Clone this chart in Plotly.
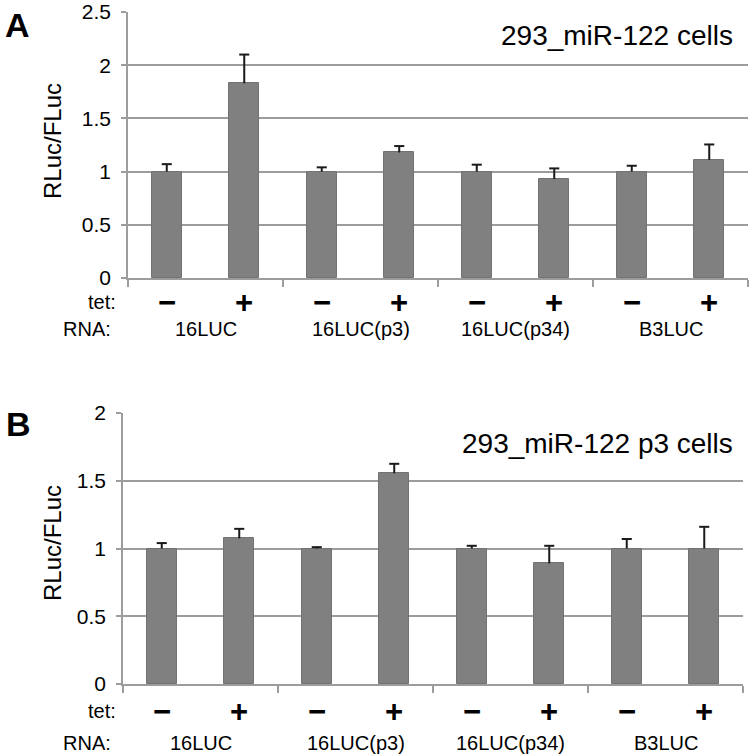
import plotly.graph_objects as go

# ---- data ----
tet_signs = ["−", "+", "−", "+", "−", "+", "−", "+"]
rna_labels = ["16LUC", "16LUC(p3)", "16LUC(p34)", "B3LUC"]
a_values = [1.0, 1.83, 1.0, 1.18, 1.0, 0.93, 1.0, 1.11]
a_errors = [0.07, 0.27, 0.04, 0.06, 0.065, 0.10, 0.055, 0.145]
b_values = [1.0, 1.075, 1.0, 1.555, 1.0, 0.89, 1.0, 1.0]
b_errors = [0.04, 0.07, 0.01, 0.07, 0.02, 0.13, 0.07, 0.16]
a_title = "293_miR-122 cells"
b_title = "293_miR-122 p3 cells"
y_label = "RLuc/FLuc"

W, H = 750, 755
FONT = "Liberation Sans, Arial, Helvetica, sans-serif"
GRID = "#9c9c9c"
BAR = "#808080"
CAP = 0.065  # half cap width in category units

def py(p):
    return 1 - p / H

xpos = list(range(len(a_values)))
group_pos = [0.5, 2.5, 4.5, 6.5]

fig = go.Figure()
for vals, errs, xa, ya in [(a_values, a_errors, "x", "y"), (b_values, b_errors, "x2", "y2")]:
    fig.add_trace(go.Bar(
        x=xpos, y=vals, xaxis=xa, yaxis=ya, width=0.39,
        marker=dict(color=BAR, line=dict(color="#727272", width=1)),
        showlegend=False, hoverinfo="skip"))
    # upward-only error bars (stem + cap), built from the data arrays
    ex, ey = [], []
    for xp, v, e in zip(xpos, vals, errs):
        ex += [xp, xp, None, xp - CAP, xp + CAP, None]
        ey += [v, v + e, None, v + e, v + e, None]
    fig.add_trace(go.Scatter(
        x=ex, y=ey, xaxis=xa, yaxis=ya, mode="lines",
        line=dict(color="#1a1a1a", width=2), showlegend=False,
        hoverinfo="skip", connectgaps=False))

xcommon = dict(range=[-0.5, 7.5], tickvals=[-0.5, 1.5, 3.5, 5.5, 7.5],
               showticklabels=False, ticks="outside", ticklen=7, tickwidth=1.5,
               tickcolor=GRID, showline=True, linecolor=GRID, linewidth=1.5,
               showgrid=False, zeroline=False, fixedrange=True, automargin=False)
ycommon = dict(dtick=0.5, showgrid=True, gridcolor=GRID, gridwidth=1.5,
               showline=True, linecolor=GRID, linewidth=1.5, ticks="outside",
               ticklen=5, tickwidth=1.5, tickcolor=GRID, zeroline=False,
               tickfont=dict(size=21, color="black", family=FONT),
               ticklabelstandoff=6, ticklabeloverflow="allow",
               fixedrange=True, automargin=False)

fig.update_layout(
    width=W, height=H, autosize=False,
    margin=dict(l=0, r=0, t=0, b=0, pad=0),
    paper_bgcolor="white", plot_bgcolor="white",
    font=dict(family=FONT, color="black"),
    bargap=0,
    xaxis=dict(domain=[128 / W, 748 / W], anchor="y", **xcommon),
    yaxis=dict(domain=[py(278), py(12)], anchor="x", range=[0, 2.5],
               tickvals=[0, 0.5, 1, 1.5, 2, 2.5],
               ticktext=["0", "0.5", "1", "1.5", "2", "2.5"], **ycommon),
    xaxis2=dict(domain=[123 / W, 743 / W], anchor="y2", **xcommon),
    yaxis2=dict(domain=[py(684), py(413)], anchor="x2", range=[0, 2],
                tickvals=[0, 0.5, 1, 1.5, 2],
                ticktext=["0", "0.5", "1", "1.5", "2"], **ycommon),
)

ann = []
# panel letters
ann.append(dict(text="<b>A</b>", x=17 / W, y=py(25), xref="paper", yref="paper",
                showarrow=False, font=dict(size=34), xanchor="center", yanchor="middle"))
ann.append(dict(text="<b>B</b>", x=18 / W, y=py(424), xref="paper", yref="paper",
                showarrow=False, font=dict(size=34), xanchor="center", yanchor="middle"))
# in-plot titles
ann.append(dict(text=a_title, x=735 / W, y=py(35), xref="paper", yref="paper",
                showarrow=False, font=dict(size=28), xanchor="right", yanchor="middle"))
ann.append(dict(text=b_title, x=735 / W, y=py(444), xref="paper", yref="paper",
                showarrow=False, font=dict(size=28), xanchor="right", yanchor="middle"))
# y axis titles
ann.append(dict(text=y_label, x=52 / W, y=py(141), xref="paper", yref="paper",
                showarrow=False, textangle=-90, font=dict(size=24),
                xanchor="center", yanchor="middle"))
ann.append(dict(text=y_label, x=52 / W, y=py(543), xref="paper", yref="paper",
                showarrow=False, textangle=-90, font=dict(size=24),
                xanchor="center", yanchor="middle"))
# row labels and category labels
for xa, tet_y, rna_y in [("x", 302, 329), ("x2", 711, 743)]:
    ann.append(dict(text="tet:", x=118 / W, y=py(tet_y), xref="paper", yref="paper",
                    showarrow=False, font=dict(size=20), xanchor="right", yanchor="middle"))
    ann.append(dict(text="RNA:", x=113 / W, y=py(rna_y), xref="paper", yref="paper",
                    showarrow=False, font=dict(size=20), xanchor="right", yanchor="middle"))
    for xp, s in zip(xpos, tet_signs):
        ann.append(dict(text="<b>" + s + "</b>", x=xp, y=py(tet_y), xref=xa, yref="paper",
                        showarrow=False, font=dict(size=31), xanchor="center", yanchor="middle"))
    for gp, lab in zip(group_pos, rna_labels):
        ann.append(dict(text=lab, x=gp, y=py(rna_y), xref=xa, yref="paper",
                        showarrow=False, font=dict(size=20), xanchor="center", yanchor="middle"))

fig.update_layout(annotations=ann)
fig.write_html("out.html", config={"displayModeBar": False},
               post_script="document.body.style.margin='0';")
